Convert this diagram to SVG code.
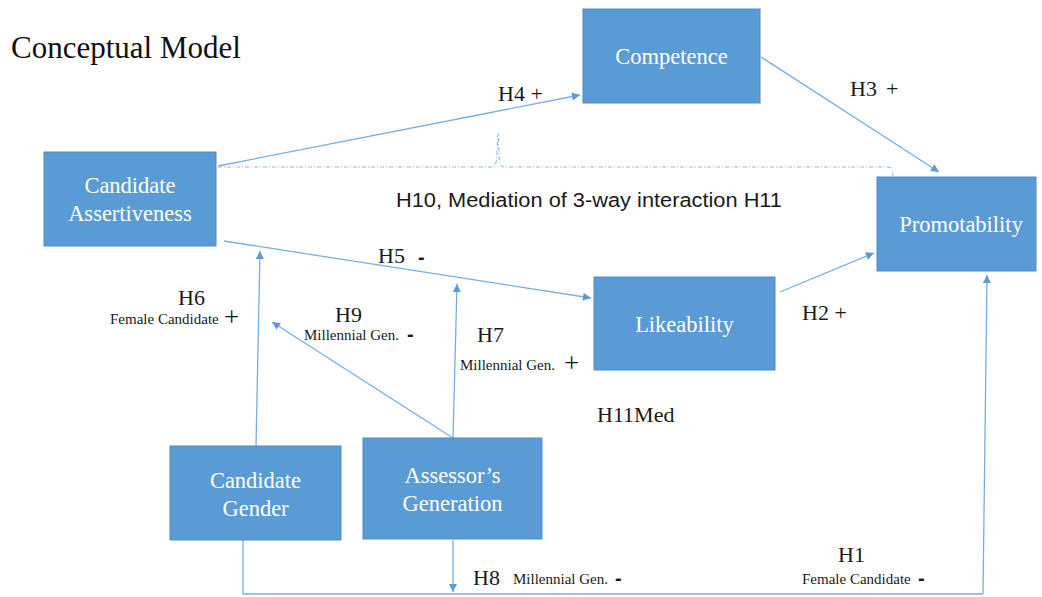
<svg xmlns="http://www.w3.org/2000/svg" width="1042" height="597" viewBox="0 0 1042 597">
<style>
.box{fill:#5B9BD5;stroke:#4F8CC9;stroke-width:1}
.bt{font-family:"Liberation Serif",serif;font-size:22.5px;fill:#ffffff;text-anchor:middle}
.lbl{font-family:"Liberation Serif",serif;font-size:22px;fill:#1a1a1a}
.sm{font-family:"Liberation Serif",serif;font-size:15px;fill:#1a1a1a}
.pl{font-family:"Liberation Serif",serif;font-size:27px;fill:#1a1a1a}
.mi{font-family:"Liberation Sans",sans-serif;font-size:20px;font-weight:bold;fill:#1a1a1a}
.con{fill:none;stroke:#7AAEE2;stroke-width:1.3}
.dash{fill:none;stroke:#8DB8E4;stroke-width:1.1;stroke-dasharray:4 2 1 2}
</style>
<defs>
<marker id="arr" viewBox="0 0 10 10" refX="10" refY="5" markerWidth="9" markerHeight="8" markerUnits="userSpaceOnUse" orient="auto">
<path d="M0,0 L10,5 L0,10 z" fill="#5B9BD5"/>
</marker>
</defs>
<rect width="1042" height="597" fill="#ffffff"/>
<text x="11" y="58" font-family="Liberation Serif, serif" font-size="31" fill="#111">Conceptual Model</text>

<g id="connectors">
<line class="con" x1="218" y1="166" x2="580" y2="95" marker-end="url(#arr)"/>
<line class="con" x1="761" y1="57" x2="939" y2="172" marker-end="url(#arr)"/>
<line class="con" x1="224" y1="241" x2="591" y2="298" marker-end="url(#arr)"/>
<line class="con" x1="780" y1="292" x2="874" y2="253" marker-end="url(#arr)"/>
<line class="con" x1="256" y1="446" x2="260" y2="251" marker-end="url(#arr)"/>
<line class="con" x1="453" y1="438" x2="457" y2="284" marker-end="url(#arr)"/>
<line class="con" x1="453" y1="438" x2="272" y2="322" marker-end="url(#arr)"/>
<line class="con" x1="453" y1="540" x2="453" y2="592" marker-end="url(#arr)"/>
<polyline class="con" points="243,540 243,594 983,594"/>
<line class="con" x1="983" y1="594" x2="987" y2="275" marker-end="url(#arr)"/>
<path class="dash" d="M218,167 L492,167 Q497,167 497,152 L498,133 L499,152 Q499,167 504,167 L888,167 Q893,167 893,176"/>
</g>

<g id="competence">
<rect class="box" x="583" y="9" width="177" height="94"/>
<text class="bt" x="671.5" y="64">Competence</text>
</g>
<g id="candidate-assertiveness">
<rect class="box" x="44" y="152" width="172" height="94"/>
<text class="bt" x="130" y="193">Candidate</text>
<text class="bt" x="130" y="221">Assertiveness</text>
</g>
<g id="promotability">
<rect class="box" x="877" y="177" width="159" height="94"/>
<text class="bt" x="961" y="232">Promotability</text>
</g>
<g id="likeability">
<rect class="box" x="594" y="277" width="181" height="93"/>
<text class="bt" x="684.5" y="332">Likeability</text>
</g>
<g id="candidate-gender">
<rect class="box" x="170" y="446" width="171" height="94"/>
<text class="bt" x="255.5" y="488">Candidate</text>
<text class="bt" x="255.5" y="516">Gender</text>
</g>
<g id="assessors-generation">
<rect class="box" x="363" y="438" width="179" height="101"/>
<text class="bt" x="452.5" y="483">Assessor’s</text>
<text class="bt" x="452.5" y="511">Generation</text>
</g>

<g id="labels">
<text class="lbl" x="498" y="101">H4 +</text>
<text class="lbl" x="850" y="96">H3</text><text class="lbl" x="886" y="96">+</text>
<text x="396" y="207" font-family="Liberation Sans, sans-serif" font-size="20" fill="#1a1a1a" textLength="386" lengthAdjust="spacingAndGlyphs">H10, Mediation of 3-way interaction H11</text>
<text class="lbl" x="378" y="263">H5</text><text class="mi" x="418" y="264">-</text>
<text class="lbl" x="178" y="305">H6</text>
<text class="sm" x="110" y="324">Female Candidate</text><text class="pl" x="224" y="326">+</text>
<text class="lbl" x="335" y="322">H9</text>
<text class="sm" x="304" y="340">Millennial Gen.</text><text class="mi" x="407" y="341">-</text>
<text class="lbl" x="477" y="342">H7</text>
<text class="sm" x="460" y="370">Millennial Gen.</text><text class="pl" x="564" y="372">+</text>
<text class="lbl" x="802" y="320">H2 +</text>
<text class="lbl" x="597" y="422">H11Med</text>
<text class="lbl" x="473" y="585">H8</text>
<text class="sm" x="513" y="584">Millennial Gen.</text><text class="mi" x="615" y="585">-</text>
<text class="lbl" x="838" y="562">H1</text>
<text class="sm" x="802" y="584">Female Candidate</text><text class="mi" x="918" y="585">-</text>
</g>
</svg>
